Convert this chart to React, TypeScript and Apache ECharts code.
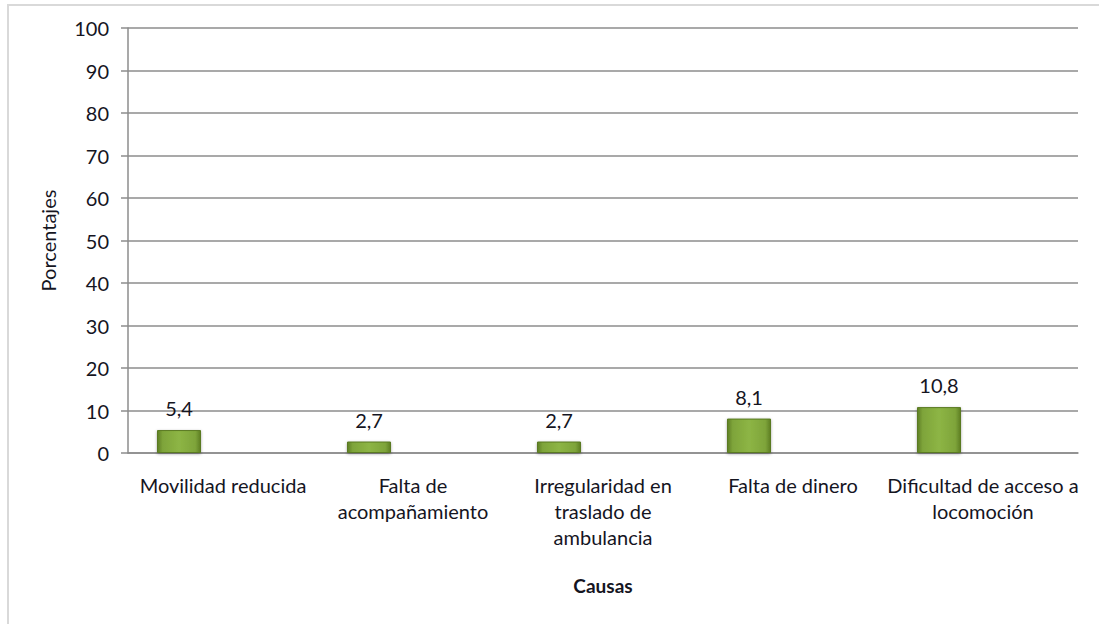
import React, { useEffect, useRef } from "react";
import * as echarts from "echarts";

const categories = [
  "Movilidad reducida",
  "Falta de\nacompañamiento",
  "Irregularidad en\ntraslado de\nambulancia",
  "Falta de dinero",
  "Dificultad de acceso a\nlocomoción",
];
const values = [5.4, 2.7, 2.7, 8.1, 10.8];
const emptySeries = [null, null, null, null, null];
const yTicks = { min: 0, max: 100, interval: 10 };

const FONT = "Lato, 'Open Sans', sans-serif";
const TEXT = "#15151f";

export default function App() {
  const ref = useRef<HTMLDivElement>(null);
  useEffect(() => {
    const chart = echarts.init(ref.current!, null, { renderer: "svg" });
    const barColor = new echarts.graphic.LinearGradient(0, 0, 1, 0, [
      { offset: 0, color: "#5f7f24" },
      { offset: 0.12, color: "#7ea43a" },
      { offset: 0.5, color: "#8db545" },
      { offset: 0.88, color: "#7ea43a" },
      { offset: 1, color: "#5f7f24" },
    ]);
    chart.setOption({
      animation: false,
      backgroundColor: "#ffffff",
      textStyle: { fontFamily: FONT },
      graphic: [
        {
          type: "rect",
          shape: { x: 8, y: 5, width: 1200, height: 800 },
          style: { fill: "none", stroke: "#d9d9d9", lineWidth: 2 },
          silent: true,
        },
      ],
      grid: { left: 128, right: 21, top: 28, bottom: 171 },
      xAxis: {
        type: "category",
        data: categories,
        name: "Causas",
        nameLocation: "middle",
        nameGap: 123,
        nameTextStyle: { fontFamily: FONT, fontSize: 19, fontWeight: "bold", color: TEXT },
        axisLine: { lineStyle: { color: "#8c8c8c", width: 1.5 } },
        axisTick: { show: false },
        axisLabel: {
          interval: 0,
          margin: 19,
          fontFamily: FONT,
          fontSize: 20,
          lineHeight: 26,
          color: TEXT,
        },
      },
      yAxis: {
        type: "value",
        min: yTicks.min,
        max: yTicks.max,
        interval: yTicks.interval,
        name: "Porcentajes",
        nameLocation: "middle",
        nameGap: 70,
        nameTextStyle: { fontFamily: FONT, fontSize: 20, color: TEXT },
        axisLine: { show: true, lineStyle: { color: "#8c8c8c", width: 1.5 } },
        axisTick: { show: true, length: 7, lineStyle: { color: "#8c8c8c", width: 1.5 } },
        axisLabel: { margin: 19, fontFamily: FONT, fontSize: 20, color: TEXT },
        splitLine: { lineStyle: { color: "#8c8c8c", width: 1.5 } },
      },
      series: [
        {
          type: "bar",
          data: values,
          barWidth: 44,
          barGap: "100%",
          itemStyle: {
            color: barColor,
            borderColor: "#5a7a20",
            borderWidth: 1,
            shadowColor: "rgba(0,0,0,0.35)",
            shadowBlur: 3,
            shadowOffsetY: 1,
          },
          label: {
            show: true,
            position: "top",
            distance: 12,
            fontFamily: FONT,
            fontSize: 20,
            color: TEXT,
            formatter: (p: any) => p.value.toFixed(1).replace(".", ","),
          },
        },
        {
          type: "bar",
          data: emptySeries,
          barWidth: 44,
        },
      ],
    });
    return () => chart.dispose();
  }, []);
  return (
    <div
      ref={ref}
      style={{ position: "fixed", left: 0, top: 0, width: 1099, height: 624 }}
    />
  );
}
